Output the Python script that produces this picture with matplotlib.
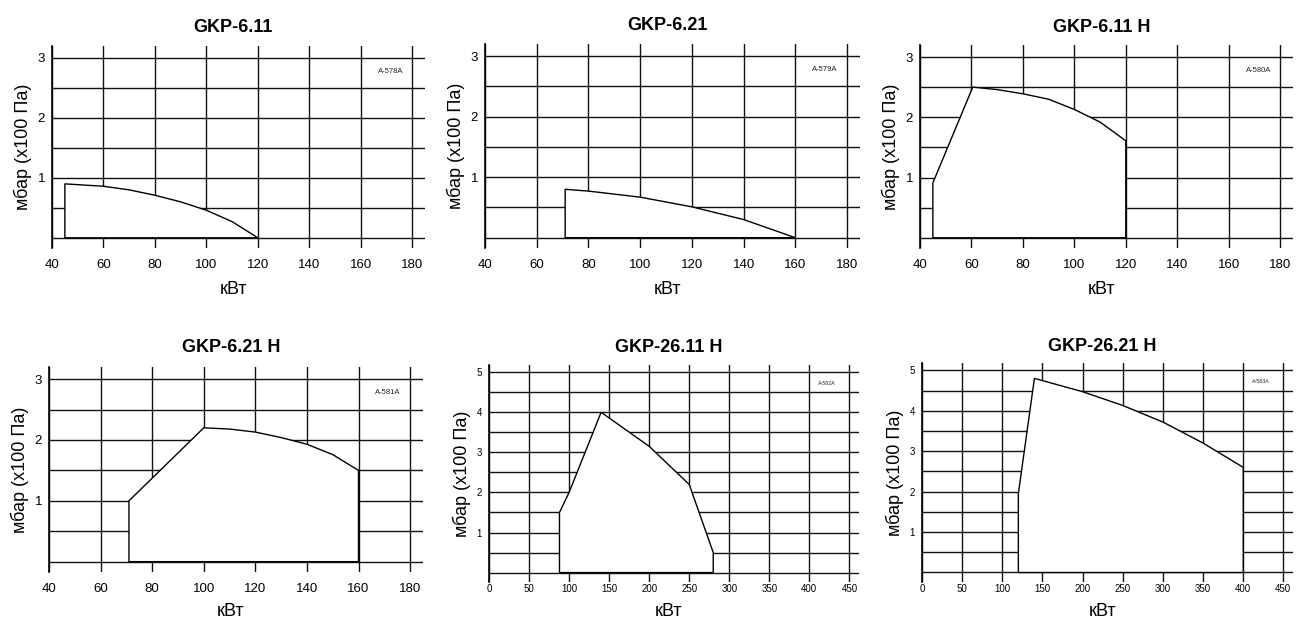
import numpy as np
import matplotlib.pyplot as plt

plt.rcParams['font.family'] = ['Liberation Sans', 'DejaVu Sans']

titles = ["GKP-6.11", "GKP-6.21", "GKP-6.11 H", "GKP-6.21 H", "GKP-26.11 H", "GKP-26.21 H"]
codes = ["A-578A", "A-579A", "A-580A", "A-581A", "A-582A", "A-583A"]

x1 = [45, 45, 60, 70, 80, 90, 100, 110, 120]
y1 = [0, 0.9, 0.86, 0.8, 0.71, 0.6, 0.46, 0.27, 0]

x2 = [71, 71, 80, 100, 120, 140, 160]
y2 = [0, 0.8, 0.77, 0.67, 0.51, 0.3, 0]

x3 = [45, 45, 60.5, 70, 80, 90, 100, 110, 120, 120]
y3 = [0, 0.91, 2.5, 2.46, 2.39, 2.3, 2.13, 1.92, 1.61, 0]

x4 = [71, 71, 100, 110, 120, 130, 140, 150, 160, 160]
y4 = [0, 1.0, 2.2, 2.18, 2.13, 2.04, 1.93, 1.76, 1.5, 0]

x5 = [88, 88, 100, 140, 200, 250, 280, 280]
y5 = [0, 1.5, 2.0, 4.0, 3.15, 2.2, 0.5, 0]

x6 = [120, 120, 140, 200, 250, 300, 350, 400, 400]
y6 = [0, 1.95, 4.8, 4.47, 4.13, 3.72, 3.2, 2.6, 0]

xs = [x1, x2, x3, x4, x5, x6]
ys = [y1, y2, y3, y4, y5, y6]

small_xticks = [40, 60, 80, 100, 120, 140, 160, 180]
small_yticks = [0, 0.5, 1, 1.5, 2, 2.5, 3]
small_ylabels = ["", "", "1", "", "2", "", "3"]
big_xticks = [0, 50, 100, 150, 200, 250, 300, 350, 400, 450]
big_yticks = [0, 0.5, 1, 1.5, 2, 2.5, 3, 3.5, 4, 4.5, 5]
big_ylabels = ["", "", "1", "", "2", "", "3", "", "4", "", "5"]

W, H = 1298, 619
# left, right, top, bottom in pixels
boxes = [(52, 425, 46, 248), (485, 860, 44, 248), (920, 1293, 45, 248),
         (49, 423, 367, 572), (489, 859, 365, 582), (922, 1293, 363, 582)]
# title centre and x-label centre, pixels from top
title_y = [27, 25, 27, 348, 348, 347]
xlab_y = [290, 290, 290, 612, 611, 611]

fig = plt.figure(figsize=(W / 100, H / 100), dpi=100)

for i in range(6):
    l, r, t, b = boxes[i]
    ax = fig.add_axes([l / W, 1 - b / H, (r - l) / W, (b - t) / H])
    big = i >= 4
    if big:
        xt, yt, yl = big_xticks, big_yticks, big_ylabels
        ax.set_xlim(0, 462)
        ax.set_ylim(-0.235, 5.18)
        tfs = 7
        cfs = 3.8
        xpad = 1.5
        cpos = (0.913, 0.915)
    else:
        xt, yt, yl = small_xticks, small_yticks, small_ylabels
        ax.set_xlim(40, 185)
        ax.set_ylim(-0.17, 3.2)
        tfs = 9.5
        cfs = 5.5
        xpad = 8
        cpos = (0.907, 0.875)
    ax.set_xticks(xt)
    ax.set_yticks(yt)
    ax.set_yticklabels(yl)
    ax.tick_params(length=0, labelsize=tfs)
    ax.tick_params(axis='x', pad=xpad)
    ax.tick_params(axis='y', pad=5)
    ax.grid(True, color='#111111', lw=1.0, zorder=1)
    ax.set_axisbelow(True)
    for s in ['top', 'right', 'bottom']:
        ax.spines[s].set_visible(False)
    ax.spines['left'].set_linewidth(1.2)

    ax.fill(xs[i], ys[i], facecolor='white', edgecolor='black', lw=1.0, zorder=3)

    ax.text(cpos[0], cpos[1], codes[i], transform=ax.transAxes, fontsize=cfs,
            ha='center', va='center', color='#222222')
    cx = (l + r) / 2 / W - 0.004
    fig.text(cx, 1 - title_y[i] / H, titles[i], fontsize=13, fontweight='bold',
             ha='center', va='center')
    fig.text(cx, 1 - xlab_y[i] / H, "кВт", fontsize=13, ha='center', va='center')
    ax.set_ylabel("мбар (x100 Па)", fontsize=13, labelpad=4)

fig.savefig("out.png", dpi=100)
